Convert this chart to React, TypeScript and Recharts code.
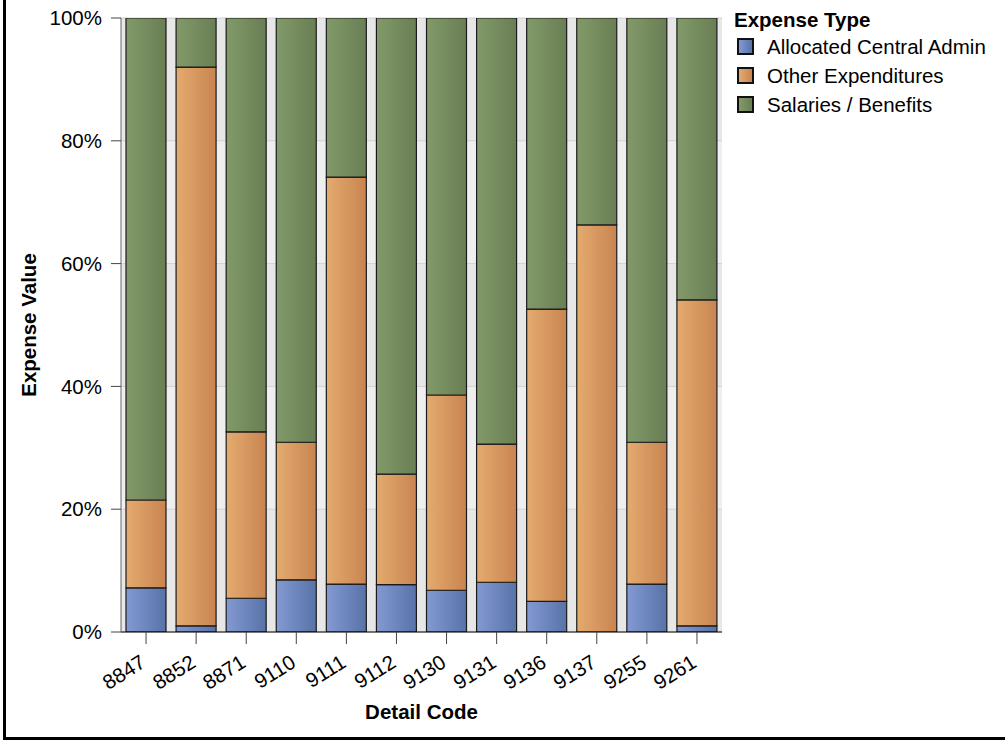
import React from 'react';
import { BarChart, Bar, XAxis, YAxis, CartesianGrid, Label } from 'recharts';

const codes = ['8847', '8852', '8871', '9110', '9111', '9112', '9130', '9131', '9136', '9137', '9255', '9261'];
// shares of total, in percent
const allocatedAdmin = [7.2, 1.0, 5.5, 8.5, 7.8, 7.7, 6.8, 8.1, 5.0, 0.0, 7.8, 1.0];
const otherExpenditures = [14.3, 91.0, 27.1, 22.4, 66.3, 18.0, 31.8, 22.5, 47.6, 66.3, 23.1, 53.1];
const salariesBenefits = [78.5, 8.0, 67.4, 69.1, 25.9, 74.3, 61.4, 69.4, 47.4, 33.7, 69.1, 45.9];
const yTicks = [0, 20, 40, 60, 80, 100];

const seriesNames = ['Allocated Central Admin', 'Other Expenditures', 'Salaries / Benefits'];

const data = codes.map((code, i) => ({
  code,
  admin: allocatedAdmin[i],
  other: otherExpenditures[i],
  salaries: salariesBenefits[i]
}));

const FONT = '"Liberation Sans", Arial, sans-serif';

const gradients = [
  { id: 'gBlue', from: '#8399d3', to: '#5873a8' },
  { id: 'gOrange', from: '#e4ab6e', to: '#c98451' },
  { id: 'gGreen', from: '#829a69', to: '#697e54' }
];

const XTick = (props: any) => {
  const { x, y, payload } = props;
  const px = x + 1;
  const py = y + 22;
  return <text x={px} y={py} textAnchor="end" fontSize={20.5} fontFamily={FONT} fill="#000" transform={`rotate(-32, ${px}, ${py})`}>
      {payload.value}
    </text>;
};

const YLabel = (props: any) => {
  const { viewBox } = props;
  const cy = viewBox.y + viewBox.height / 2;
  return <text x={28} y={cy} textAnchor="middle" dominantBaseline="central" fontSize={20.5} fontWeight="bold" fontFamily={FONT} fill="#000" transform={`rotate(-90, 28, ${cy})`}>
      Expense Value
    </text>;
};

const XLabel = (props: any) => {
  const { viewBox } = props;
  const cx = viewBox.x + viewBox.width / 2;
  return <text x={cx} y={719} textAnchor="middle" fontSize={20.5} fontWeight="bold" fontFamily={FONT} fill="#000">
      Detail Code
    </text>;
};

const App: React.FC = () => {
  return <div style={{
    position: 'absolute',
    left: 0,
    top: 0,
    width: 1005,
    height: 740,
    overflow: 'hidden',
    background: '#fff',
    fontFamily: FONT
  }}>
      <div style={{
      position: 'absolute',
      left: 3,
      top: -10,
      width: 1030,
      height: 747,
      borderLeft: '3px solid #000',
      borderBottom: '3px solid #000'
    }} />
      <BarChart width={1005} height={740} data={data} margin={{ top: 18, right: 283, bottom: 8, left: 0 }} barSize={40}>
        <defs>
          {gradients.map(g => <linearGradient key={g.id} id={g.id} x1="0" y1="0" x2="1" y2="0">
              <stop offset="0%" stopColor={g.from} />
              <stop offset="100%" stopColor={g.to} />
            </linearGradient>)}
        </defs>
        <CartesianGrid vertical={false} stroke="#d2d2d2" horizontalFill={['#e7e7e7', '#efefef']} />
        <XAxis dataKey="code" height={100} tick={<XTick />} tickSize={12} tickMargin={0} axisLine={{ stroke: '#000' }} tickLine={{ stroke: '#444' }} interval={0}>
          <Label content={<XLabel />} />
        </XAxis>
        <YAxis width={121} domain={[0, 100]} ticks={yTicks} tickFormatter={(v: number) => `${v}%`} tickSize={10} tickMargin={9} tick={{ fontSize: 20.5, fontFamily: FONT, fill: '#000' }} axisLine={{ stroke: '#666' }} tickLine={{ stroke: '#444' }} allowDataOverflow>
          <Label content={<YLabel />} />
        </YAxis>
        <Bar dataKey="admin" name={seriesNames[0]} stackId="a" fill="url(#gBlue)" stroke="#1a1a1a" strokeWidth={1.2} isAnimationActive={false} />
        <Bar dataKey="other" name={seriesNames[1]} stackId="a" fill="url(#gOrange)" stroke="#1a1a1a" strokeWidth={1.2} isAnimationActive={false} />
        <Bar dataKey="salaries" name={seriesNames[2]} stackId="a" fill="url(#gGreen)" stroke="#1a1a1a" strokeWidth={1.2} isAnimationActive={false} />
      </BarChart>
      <div style={{ position: 'absolute', left: 734, top: 7, fontSize: 20.5, color: '#000', lineHeight: '29px' }}>
        <div style={{ fontWeight: 'bold', height: 25, lineHeight: '25px' }}>Expense Type</div>
        {seriesNames.map((name, i) => <div key={name} style={{ display: 'flex', alignItems: 'center', height: 29 }}>
            <span style={{
          display: 'inline-block',
          width: 13,
          height: 13,
          border: '2px solid #111',
          marginLeft: 3,
          marginRight: 13,
          background: `linear-gradient(to right, ${gradients[i].from}, ${gradients[i].to})`
        }} />
            <span>{name}</span>
          </div>)}
      </div>
    </div>;
};

export default App;
